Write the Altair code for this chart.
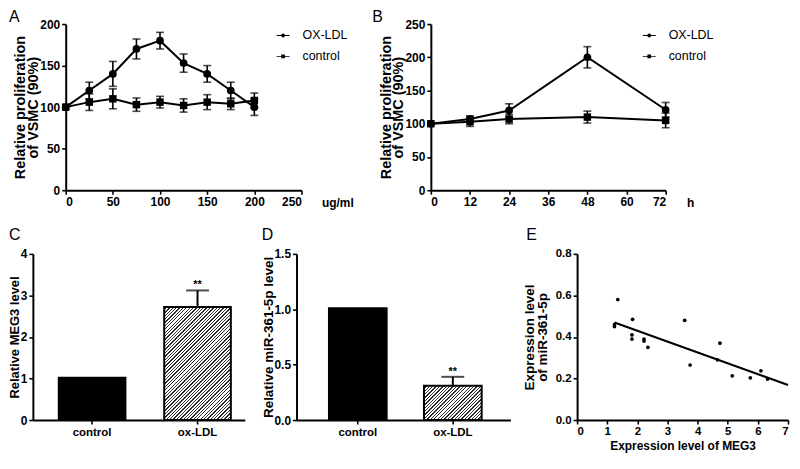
import altair as alt
import pandas as pd

FONT = "Liberation Sans"

# ---------------- data ----------------
series_names = ["OX-LDL", "control"]

# Panel A (dose, ug/ml)
doses = [0, 25, 50, 75, 100, 125, 150, 175, 200]
a_ox = [100, 120, 140, 170, 180, 153, 140, 120, 100]
a_ox_err = [0, 10, 15, 12, 10, 11, 10, 10, 10]
a_ctrl = [100, 106, 110, 103, 106, 102, 106, 104, 108]
a_ctrl_err = [0, 10, 12, 8, 7, 8, 9, 7, 9]

# Panel B (time, h)
hours = [0, 12, 24, 48, 72]
b_ox = [100, 107, 120, 200, 121]
b_ox_err = [0, 5, 10, 16, 11]
b_ctrl = [100, 103, 107, 110, 105]
b_ctrl_err = [0, 7, 7, 9, 11]

# Panels C, D (bars)
bar_groups = ["control", "ox-LDL"]
c_meg3 = [1.02, 2.72]
c_err = [0, 0.40]
d_mir = [1.01, 0.31]
d_err = [0, 0.08]
sig = ["", "**"]

# Panel E (scatter)
e_meg3 = [1.24, 1.24, 1.35, 1.84, 1.82, 1.82, 2.22, 2.22, 2.35, 3.57, 3.75,
          4.66, 4.74, 5.15, 5.75, 6.10, 6.32]
e_mir = [0.46, 0.45, 0.58, 0.485, 0.41, 0.39, 0.39, 0.38, 0.35, 0.48, 0.265,
         0.29, 0.37, 0.213, 0.203, 0.237, 0.197]

# ---------------- helpers ----------------
H = 167
CIRCLE_PATH = ("M-1,-0.07H1V0.07H-1Z "
               "M0.3,0A0.3,0.3 0 1,1 -0.3,0A0.3,0.3 0 1,1 0.3,0Z")
SQUARE_PATH = "M-1,-0.07H1V0.07H-1Z M-0.28,-0.28H0.28V0.28H-0.28Z"


def letter_layer(letter, lx, ly):
    return alt.Chart(pd.DataFrame({"t": [letter]})).mark_text(
        align="left", baseline="top", fontSize=16, font=FONT,
        fontWeight="normal", color="black"
    ).encode(text="t:N", x=alt.value(lx), y=alt.value(ly))


def line_panel(xs, ox, oxe, ct, cte, xdom, xvals, ydom, yvals, unit,
               letter, lx, ly, W, legx, legy, lp=0):
    n = len(xs)
    df = pd.DataFrame({
        "x": xs + xs, "v": ox + ct, "e": oxe + cte,
        "series": [series_names[0]] * n + [series_names[1]] * n,
    })
    xax = alt.Axis(values=xvals, title=unit, titleX=257 + lp, titleY=12,
                   titleAlign="left", titleBaseline="middle",
                   titleFontSize=12)
    yax = alt.Axis(values=yvals, title=["Relative proliferation", "of VSMC (90%)"],
                   titleFontSize=14.5, titleLineHeight=13, titleX=-38,
                   titleAngle=270, titleBaseline="bottom", offset=-lp)
    if lp:
        xsc = alt.Scale(domain=xdom, nice=False, zero=False, range=[lp, W + lp])
    else:
        xsc = alt.Scale(domain=xdom, nice=False, zero=False)
    ysc = alt.Scale(domain=ydom, nice=False)

    def X(f):
        return alt.X(f, type="quantitative", scale=xsc, axis=xax)

    def Y(f):
        return alt.Y(f, type="quantitative", scale=ysc, axis=yax)

    base = alt.Chart(df).transform_calculate(
        lo="datum.v - datum.e", hi="datum.v + datum.e")
    lines = base.mark_line(color="black", strokeWidth=2).encode(
        x=X("x"), y=Y("v"), detail="series:N")
    errs = base.transform_filter("datum.e > 0")
    rules = errs.mark_rule(color="black", strokeWidth=1.6).encode(
        x=X("x"), y=Y("lo"), y2="hi:Q")
    cap_lo = errs.mark_tick(orient="horizontal", size=8, thickness=1.6,
                            color="black").encode(x=X("x"), y=Y("lo"))
    cap_hi = errs.mark_tick(orient="horizontal", size=8, thickness=1.6,
                            color="black").encode(x=X("x"), y=Y("hi"))
    circles = base.transform_filter(f"datum.series == '{series_names[0]}'").mark_point(
        shape="circle", filled=True, size=60, color="black", opacity=1).encode(
        x=X("x"), y=Y("v"))
    squares = base.transform_filter(f"datum.series == '{series_names[1]}'").mark_point(
        shape="square", filled=True, size=56, color="black", opacity=1).encode(
        x=X("x"), y=Y("v"))
    leg = base.transform_filter("false").mark_point(
        filled=True, color="black", opacity=1).encode(
        x=X("x"), y=Y("v"),
        shape=alt.Shape("series:N",
                        scale=alt.Scale(domain=series_names,
                                        range=[CIRCLE_PATH, SQUARE_PATH]),
                        legend=alt.Legend(
                            title=None, orient="none", legendX=legx + lp, legendY=legy,
                            symbolSize=169, symbolFillColor="black",
                            symbolStrokeColor="black", symbolStrokeWidth=0,
                            symbolOpacity=1, labelFont=FONT, labelFontSize=12.5,
                            labelFontWeight="normal", labelColor="black",
                            labelOffset=13, rowPadding=8)))
    return alt.layer(lines, rules, cap_lo, cap_hi, circles, squares, leg,
                     letter_layer(letter, lx + lp, ly)).properties(width=W + lp, height=H)


def hatch(w, h, period=3.4, dark_frac=0.4, dark="#2b2b2b", light="#ffffff"):
    k = (w + h) / (w * w + h * h)
    n = max(1, round((w + h) / period))
    stops = []
    for i in range(n):
        a = i / n
        b = (i + 1 - dark_frac) / n
        c = (i + 1) / n
        stops += [{"offset": a, "color": light}, {"offset": b, "color": light},
                  {"offset": b, "color": dark}, {"offset": c, "color": dark}]
    return {"gradient": "linear", "x1": 0, "y1": 0, "x2": w * k, "y2": h * k,
            "stops": stops}


def bar_panel(vals, errs, ydom, yvals, yfmt, ytitle, tfs, tx, letter, lx, ly,
              W, pi, po, al, extra=0):
    df = pd.DataFrame({"g": bar_groups, "v": vals, "e": errs, "s": sig})
    step = W / (len(bar_groups) - pi + 2 * po)
    bw = step * (1 - pi)
    xsc = alt.Scale(domain=bar_groups, paddingInner=pi, paddingOuter=po, align=al,
                    range=[0, W])
    xax = alt.Axis(title=None, labelAngle=0, tickBand="center", labelFontSize=11.5,
                   labelPadding=3)
    ysc = alt.Scale(domain=ydom, nice=False)
    yax = alt.Axis(values=yvals, format=yfmt, title=ytitle, titleFontSize=tfs,
                   titleX=tx, titleAngle=270, titleBaseline="bottom")

    def X():
        return alt.X("g:N", scale=xsc, axis=xax, sort=bar_groups)

    def Y(f):
        return alt.Y(f, type="quantitative", scale=ysc, axis=yax)

    base = alt.Chart(df).transform_calculate(hi="datum.v + datum.e")
    ctrl = base.transform_filter(f"datum.g == '{bar_groups[0]}'").mark_bar(
        color="black", stroke="black", strokeWidth=2, width=bw).encode(x=X(), y=Y("v"))
    h_ox = vals[1] / ydom[1] * H
    ox = base.transform_filter(f"datum.g == '{bar_groups[1]}'").mark_bar(
        fill=hatch(bw, h_ox), stroke="black", strokeWidth=2, width=bw).encode(
        x=X(), y=Y("v"))
    errl = base.transform_filter("datum.e > 0")
    rule = errl.mark_rule(color="black", strokeWidth=2).encode(
        x=X(), y=Y("v"), y2="hi:Q")
    cap = errl.mark_tick(orient="horizontal", size=23, thickness=2,
                         color="black").encode(x=X(), y=Y("hi"))
    stars = errl.mark_text(baseline="alphabetic", dy=-2, fontSize=11,
                           fontWeight="bold", font=FONT, color="black").encode(
        x=X(), y=Y("hi"), text="s:N")
    return alt.layer(ctrl, ox, rule, cap, stars,
                     letter_layer(letter, lx, ly)).properties(width=W + extra, height=H)


# ---------------- panels ----------------
A = line_panel(doses, a_ox, a_ox_err, a_ctrl, a_ctrl_err, [0, 250],
               [0, 50, 100, 150, 200, 250], [0, 200], [0, 50, 100, 150, 200],
               "ug/ml", "A", -57, -15, 237, 212, 5, lp=33)
B = line_panel(hours, b_ox, b_ox_err, b_ctrl, b_ctrl_err, [0, 72],
               [0, 12, 24, 36, 48, 60, 72], [0, 250], [0, 50, 100, 150, 200, 250],
               "h", "B", -59, -15, 236, 213, 5)

C = bar_panel(c_meg3, c_err, [0, 4], [0, 1, 2, 3, 4], "d", "Relative MEG3 level",
              13, -11, "C", -24, -27, 213, 0.368, 0.189, 0.65)
D = bar_panel(d_mir, d_err, [0, 1.5], [0, 0.5, 1.0, 1.5], ".1f",
              "Relative miR-361-5p level", 13.5, -21, "D", -35, -27, 215,
              0.393, 0.322, 0.53, extra=15)

df_e = pd.DataFrame({"m": e_meg3, "r": e_mir})
ex = alt.X("m:Q", scale=alt.Scale(domain=[0, 7], nice=False),
           axis=alt.Axis(values=list(range(8)), title="Expression level of MEG3",
                         titleFontSize=12, titlePadding=3, labelFontSize=11.5))
ey = alt.Y("r:Q", scale=alt.Scale(domain=[0, 0.8], nice=False),
           axis=alt.Axis(values=[0, 0.2, 0.4, 0.6, 0.8], format=".1f",
                         title=["Expression level", "of miR-361-5p"],
                         titleFontSize=13.5, titleLineHeight=13, titleX=-41,
                         titleAngle=270, titleBaseline="bottom", labelFontSize=11.5))
e_pts = alt.Chart(df_e).mark_circle(size=14, color="black", opacity=1).encode(x=ex, y=ey)
e_fit = alt.Chart(df_e).transform_regression(
    "m", "r", extent=[min(e_meg3), 7]).mark_line(color="black", strokeWidth=2).encode(
    x=ex, y=ey)
E = alt.layer(e_fit, e_pts, letter_layer("E", -51, -27)).properties(width=212, height=H)

row1 = alt.hconcat(A, B, spacing=130, bounds="flush").resolve_scale(
    shape="independent").resolve_legend(shape="independent")
row2 = alt.hconcat(C, D, E, spacing=52, bounds="flush")

chart = alt.vconcat(row1, row2, spacing=19).properties(padding=0).configure(
    font=FONT
).configure_axis(
    domainColor="black", domainWidth=2, tickColor="black", tickWidth=1.6,
    tickSize=4, labelColor="black", labelFont=FONT, labelFontSize=12,
    labelFontWeight="bold", labelPadding=2, titleColor="black", titleFont=FONT,
    titleFontWeight="bold", grid=False
).configure_view(stroke=None)

chart.save("out.html", embed_options={"renderer": "svg", "actions": False})
